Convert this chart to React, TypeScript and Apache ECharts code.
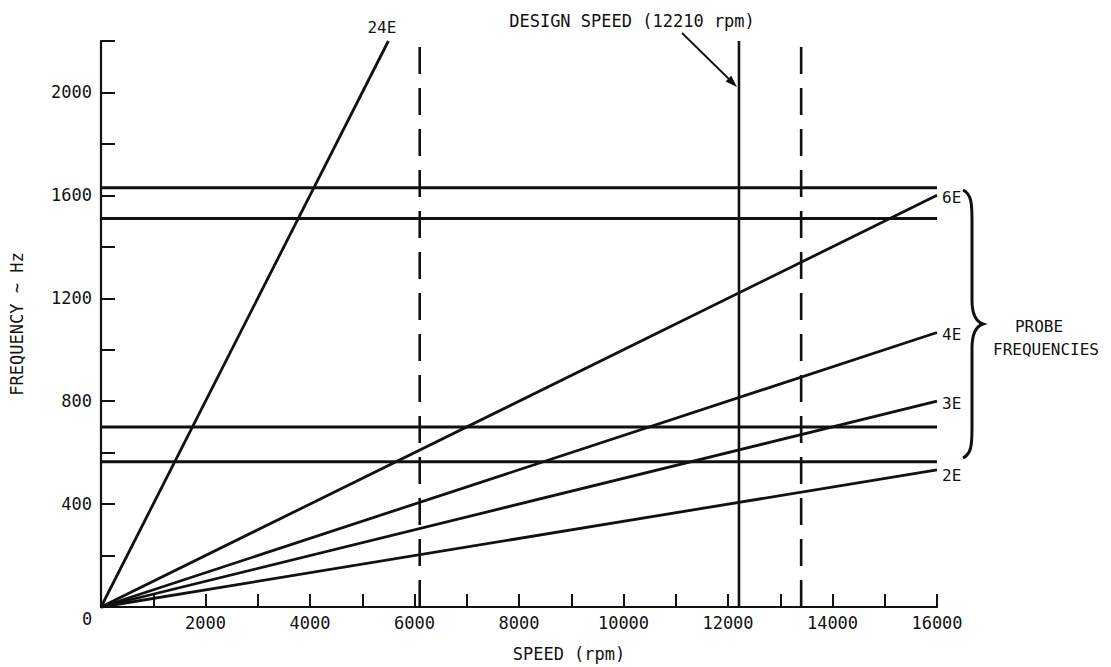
import React, { useEffect, useRef } from "react";
import * as echarts from "echarts";

// ---- data ----
const speedMax = 16000;
const freqMax = 2200;
const orderNames = ["2E", "3E", "4E", "6E", "24E"];
const orderEndSpeeds = [16000, 16000, 16000, 16000, 5500];
const orderEndFreqs = [533, 800, 1067, 1600, 2200];
const probeFrequencies = [1630, 1510, 700, 565];
const limitSpeeds = [6100, 13400];
const limitTop = 2180;
const designSpeed = 12210;

const FONT = "DejaVu Sans Mono";
const INK = "#111";

const bracePath =
  "M0,0 C8,4 9,12 9,30 L9,110 C9,126 14,132 20,134 C14,136 9,142 9,158 L9,238 C9,256 8,264 0,268";
echarts.graphic.registerShape("brace", echarts.graphic.extendPath(bracePath, {}) as any);

export default function App() {
  const ref = useRef<HTMLDivElement>(null);
  useEffect(() => {
    if (!ref.current) return;
    const chart = echarts.init(ref.current, null, { renderer: "svg" });
    const series: any[] = [];
    orderNames.forEach((name, i) => {
      const is24 = name === "24E";
      const is2 = name === "2E";
      series.push({
        type: "line",
        name,
        data: [
          [0, 0],
          [orderEndSpeeds[i], orderEndFreqs[i]],
        ],
        symbol: "none",
        clip: false,
        lineStyle: { color: INK, width: 2.8 },
        endLabel: {
          show: true,
          formatter: name,
          fontFamily: FONT,
          fontSize: 16,
          color: INK,
          distance: 5,
          offset: is24 ? [-26, -14] : is2 ? [0, 6] : [0, 2],
        },
      });
    });
    probeFrequencies.forEach((f) => {
      series.push({
        type: "line",
        data: [
          [0, f],
          [speedMax, f],
        ],
        symbol: "none",
        clip: false,
        lineStyle: { color: INK, width: 3 },
      });
    });
    limitSpeeds.forEach((s) => {
      series.push({
        type: "line",
        data: [
          [s, 0],
          [s, limitTop],
        ],
        symbol: "none",
        clip: false,
        lineStyle: { color: INK, width: 2.6, type: [27, 14] },
      });
    });
    series.push({
      type: "line",
      data: [
        [designSpeed, 0],
        [designSpeed, freqMax],
      ],
      symbol: "none",
      clip: false,
      lineStyle: { color: INK, width: 2.6 },
    });

    const option: any = {
      animation: false,
      backgroundColor: "#fff",
      grid: { left: 101, right: 174, top: 41, bottom: 60, containLabel: false },
      xAxis: {
        type: "value",
        min: 0,
        max: speedMax,
        interval: 1000,
        splitLine: { show: false },
        axisLine: { lineStyle: { color: INK, width: 2.2 } },
        axisTick: { inside: true, length: 13, lineStyle: { color: INK, width: 2 } },
        axisLabel: {
          interval: 1,
          color: INK,
          fontFamily: FONT,
          fontSize: 17,
          margin: 7,
          formatter: (v: number) => (v === 0 || v % 2000 !== 0 ? "" : String(v)),
        },
        name: "SPEED (rpm)",
        nameLocation: "middle",
        nameGap: 38,
        nameTextStyle: { color: INK, fontFamily: FONT, fontSize: 17, padding: [0, 0, 0, 100] },
      },
      yAxis: {
        type: "value",
        min: 0,
        max: freqMax,
        interval: 200,
        splitLine: { show: false },
        axisLine: { lineStyle: { color: INK, width: 2.2 } },
        axisTick: { inside: true, length: 14, lineStyle: { color: INK, width: 2 } },
        axisLabel: {
          color: INK,
          fontFamily: FONT,
          fontSize: 17,
          margin: 9,
          formatter: (v: number) => (v === 0 || v % 400 !== 0 ? "" : String(v)),
        },
        name: "FREQUENCY ~ Hz",
        nameLocation: "middle",
        nameGap: 76,
        nameTextStyle: { color: INK, fontFamily: FONT, fontSize: 17 },
      },
      series,
      graphic: [
        {
          type: "text",
          x: 87,
          y: 619,
          style: { text: "0", font: `17px "${FONT}"`, fill: INK, align: "center", verticalAlign: "middle" },
        },
        {
          type: "text",
          x: 632,
          y: 21,
          style: {
            text: "DESIGN SPEED (12210 rpm)",
            font: `17px "${FONT}"`,
            fill: INK,
            align: "center",
            verticalAlign: "middle",
          },
        },
        {
          type: "line",
          shape: { x1: 682, y1: 33, x2: 731, y2: 81 },
          style: { stroke: INK, lineWidth: 1.8 },
        },
        {
          type: "polygon",
          shape: {
            points: [
              [737, 87],
              [725.6, 81.6],
              [731.2, 75.8],
            ],
          },
          style: { fill: INK },
        },
        {
          type: "brace",
          x: 963,
          y: 190,
          style: { stroke: INK, lineWidth: 3, fill: null },
        },
        {
          type: "text",
          x: 1039,
          y: 326,
          style: { text: "PROBE", font: `16px "${FONT}"`, fill: INK, align: "center", verticalAlign: "middle" },
        },
        {
          type: "text",
          x: 1046,
          y: 349,
          style: { text: "FREQUENCIES", font: `16px "${FONT}"`, fill: INK, align: "center", verticalAlign: "middle" },
        },
      ],
    };
    chart.setOption(option);
    return () => chart.dispose();
  }, []);
  return (
    <div
      ref={ref}
      style={{ position: "absolute", left: 0, top: 0, width: 1111, height: 667, background: "#fff" }}
    />
  );
}
